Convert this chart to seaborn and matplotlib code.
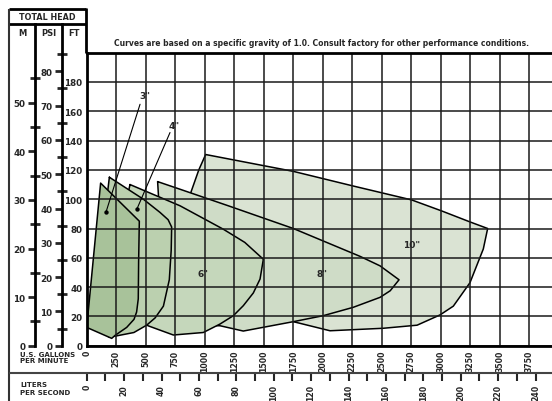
import matplotlib
matplotlib.use("Agg")
import matplotlib.pyplot as plt
from matplotlib.lines import Line2D
from matplotlib.ticker import MultipleLocator, FixedLocator
import seaborn as sns
import pandas as pd

# courbes de performance (US gpm, pieds)
gpm_3 = [0, 118, 446, 440, 437, 423, 401, 339, 240, 212, 0]
ft_3 = [12.5, 111, 85, 57, 32, 23, 18, 12.5, 7, 5, 12.5]

gpm_4 = [192, 480, 621, 690, 720, 716, 700, 650, 580, 508, 400, 240, 185, 170, 192]
ft_4 = [115, 100, 91, 86, 81, 65, 45, 27, 19, 14, 9, 6.5, 6, 100, 115]

gpm_6 = [367, 791, 1158, 1340, 1497, 1469, 1412, 1327, 1243, 1130, 988, 734, 520, 400, 340, 367]
ft_6 = [110, 95.5, 79.5, 70.5, 59, 45.5, 36, 27.3, 20.5, 14.8, 9, 7.3, 13.6, 20, 100, 110]

gpm_8 = [601, 791, 1200, 1751, 2316, 2486, 2647, 2572, 2486, 2259, 2005, 1751, 1327, 1131, 900, 640, 601]
ft_8 = [112, 106.8, 95.5, 80, 61, 54.5, 45, 37.5, 33, 26.2, 20.5, 16.4, 10, 13.6, 14, 60, 112]

gpm_10 = [1008, 1751, 2259, 2754, 3008, 3248, 3398, 3361, 3248, 3107, 2994, 2800, 2514, 2062, 1751, 1400, 900, 880, 950, 1008]
ft_10 = [130.5, 119, 109, 99.5, 92, 84.5, 80, 66, 43, 27, 21, 14, 11.9, 10.2, 16.4, 30, 60, 104, 120, 130.5]

courbes = ['10"', '8"', '6"', '4"', '3"']
couleurs = ['#dae3d3', '#cfdcc7', '#c5d7bb', '#bbd0af', '#a8c29a']
donnees = {'10"': (gpm_10, ft_10), '8"': (gpm_8, ft_8), '6"': (gpm_6, ft_6),
           '4"': (gpm_4, ft_4), '3"': (gpm_3, ft_3)}

# etiquettes dans le graphe
label_txt = ['6"', '8"', '10"']
label_gpm = [988, 1991, 2754]
label_ft = [49, 49, 69]

# repères flèches 3" et 4"
fleche_txt = ['3"', '4"']
point_gpm = [164, 426]
point_ft = [91.3, 93.4]
fin_gpm = [452, 706]
fin_ft = [164.8, 145.5]
texte_gpm = [494, 743]
texte_ft = [171, 150]

gpm_ticks = list(range(0, 4000, 250))
ft_ticks = list(range(0, 200, 20))
psi_ticks = list(range(0, 90, 10))
m_ticks = list(range(0, 60, 10))
ls_ticks = list(range(0, 260, 20))

titre = "Curves are based on a specific gravity of 1.0. Consult factory for other performance conditions."

sns.set_style("white")
plt.rcParams['font.family'] = ['DejaVu Sans']
plt.rcParams['font.weight'] = 'bold'

W, H = 552, 402
fig = plt.figure(figsize=(W / 100, H / 100), dpi=100)


def fx(px):
    return px / W


def fy(py):
    return 1 - py / H


def fig_line(x0, y0, x1, y1, lw=2, color='black'):
    fig.add_artist(Line2D([fx(x0), fx(x1)], [fy(y0), fy(y1)], lw=lw, color=color,
                          transform=fig.transFigure, solid_capstyle='butt'))


# axe principal
x_left, x_right, y_top, y_bot = 86.7, 552, 53.7, 346.7
px_gpm = 0.118
ax = fig.add_axes([fx(x_left), fy(y_bot), fx(x_right - x_left), (y_bot - y_top) / H])
xmax = (x_right - x_left) / px_gpm
ax.set_xlim(0, xmax)
ax.set_ylim(0, 200)

for i, (nom, coul) in enumerate(zip(courbes, couleurs)):
    xs, ys = donnees[nom]
    ax.fill(xs, ys, color=coul, lw=0, zorder=1 + 0.1 * i)
    df = pd.DataFrame({'gpm': xs, 'ft': ys})
    sns.lineplot(data=df, x='gpm', y='ft', sort=False, estimator=None,
                 color='black', lw=1.1, ax=ax, zorder=1.05 + 0.1 * i)

ax.set_xlim(0, xmax)
ax.set_ylim(0, 200)
ax.set_xticks(gpm_ticks)
ax.set_yticks(ft_ticks)
# quadrillage par-dessus les zones colorées
ax.grid(True, color='#1a1a1a', lw=1.1)
ax.set_axisbelow(False)
ax.tick_params(axis='x', length=0, pad=3, labelsize=5.6, rotation=90)
ax.tick_params(axis='y', length=0, pad=3, labelsize=6.3)
ax.set_xlabel('')
ax.set_ylabel('')
ax.spines['right'].set_visible(False)
for s in ['left', 'bottom', 'top']:
    ax.spines[s].set_linewidth(2)
    ax.spines[s].set_color('black')
    ax.spines[s].set_zorder(6)

for t, gx, gy in zip(label_txt, label_gpm, label_ft):
    ax.text(gx, gy, t, ha='center', va='center', fontsize=6.5, fontweight='bold', zorder=4)

for t, px_, py_, ex, ey, tx, ty in zip(fleche_txt, point_gpm, point_ft, fin_gpm, fin_ft,
                                        texte_gpm, texte_ft):
    ax.plot([px_, ex], [py_, ey], color='black', lw=0.8, zorder=4)
    ax.text(tx, ty, t, ha='center', va='center', fontsize=6.5, fontweight='bold', zorder=4)
sns.scatterplot(x=point_gpm, y=point_ft, color='black', s=10, ax=ax, zorder=5, linewidth=0)

# axes PSI et M
hdr = 25
px_psi = 3.43
px_m = 4.86
for xpos, pas, maj in [(62, px_psi, psi_ticks), (35, px_m, m_ticks)]:
    a = fig.add_axes([fx(xpos), fy(y_bot), 0.0001, (y_bot - hdr) / H])
    a.set_ylim(0, (y_bot - hdr) / pas)
    a.set_yticks(maj)
    a.yaxis.set_minor_locator(FixedLocator([v + 5 for v in maj]))
    a.set_xticks([])
    for s in ['top', 'right', 'bottom']:
        a.spines[s].set_visible(False)
    a.spines['left'].set_linewidth(2)
    a.spines['left'].set_color('black')
    a.patch.set_alpha(0)
    a.tick_params(axis='y', which='major', direction='out', length=5, width=2,
                  labelsize=6.3, pad=2, left=True)
    a.tick_params(axis='y', which='minor', direction='inout', length=7, width=2, left=True)

# axe litres / seconde
y_ls = 374
gal_par_l = 15.85
als = fig.add_axes([fx(x_left), fy(y_ls), fx(x_right - x_left), 0.0001])
als.set_xlim(0, xmax / gal_par_l)
als.set_xticks(ls_ticks)
als.xaxis.set_minor_locator(MultipleLocator(10))
als.set_yticks([])
for s in ['top', 'right', 'left', 'bottom']:
    als.spines[s].set_visible(False)
als.patch.set_alpha(0)
als.tick_params(axis='x', which='major', direction='out', length=6, width=1.5,
                labelsize=5.6, rotation=90, pad=2, bottom=True)
als.tick_params(axis='x', which='minor', direction='out', length=6, width=1.5, bottom=True)

# cadre et en-tête
fig_line(9, 10, 86, 10)
fig_line(9, 25, 86, 25)
fig_line(86, 9.2, 86, y_top)
fig_line(9, 10, 9, 402, lw=1.5, color='#333333')
fig_line(9, y_ls, 552, y_ls, lw=1.5, color='#444444')
fig.text(fx(47.5), fy(17.5), 'TOTAL HEAD', ha='center', va='center', fontsize=5.8, fontweight='bold')
fig.text(fx(22), fy(33), 'M', ha='center', va='center', fontsize=6, fontweight='bold')
fig.text(fx(48.5), fy(33), 'PSI', ha='center', va='center', fontsize=6, fontweight='bold')
fig.text(fx(74), fy(33), 'FT', ha='center', va='center', fontsize=6, fontweight='bold')
fig.text(fx(321), fy(44), titre, ha='center', va='center', fontsize=5.5, fontweight='bold')
fig.text(fx(20), fy(352), 'U.S. GALLONS\nPER MINUTE', ha='left', va='top', fontsize=5,
         fontweight='bold', linespacing=1.1)
fig.text(fx(20), fy(382), 'LITERS\nPER SECOND', ha='left', va='top', fontsize=5,
         fontweight='bold', linespacing=1.5)

fig.savefig('out.png', dpi=100)
